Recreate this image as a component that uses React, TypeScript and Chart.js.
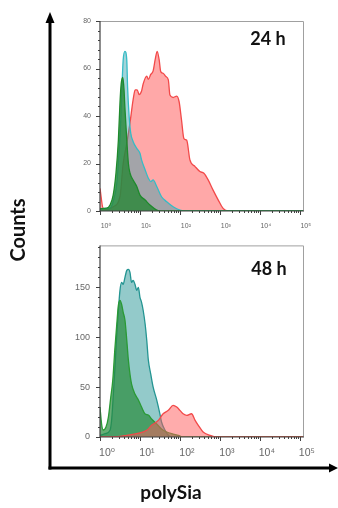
import React, { useEffect, useRef } from 'react';
import { Chart, registerables } from 'chart.js';

Chart.register(...registerables);

// ---- axis definitions (x in log10 decades) ----
const X_MAX = 5.08;
const decadeValues = [0, 1, 2, 3, 4, 5];
const decadeLabels = ['10\u2070', '10\u00b9', '10\u00b2', '10\u00b3', '10\u2074', '10\u2075'];
const yTicks24 = [0, 20, 40, 60, 80];
const yTicks48 = [0, 50, 100, 150];
const Y_MAX_24 = 80;
const Y_MAX_48 = 192;

// ---- 24 h histograms ----
const red24X = [0, 0.08, 0.2, 0.33, 0.5, 0.58, 0.67, 0.75, 0.83, 0.88, 0.93, 0.98, 1.04, 1.08, 1.17, 1.21, 1.27, 1.33, 1.38, 1.43, 1.48, 1.52, 1.58, 1.65, 1.71, 1.75, 1.83, 1.92, 1.98, 2.04, 2.1, 2.17, 2.25, 2.38, 2.5, 2.6, 2.71, 2.83, 2.96, 3.08, 3.21, 5.08];
const red24Y = [9.5, 1.1, 0.8, 1.8, 6, 20, 28.5, 37, 47, 51, 51, 49, 50.5, 53.5, 56.8, 55.4, 57.5, 59, 63.7, 67.2, 63.7, 58.7, 58, 56.6, 55.2, 48.8, 47.8, 48.4, 46, 38.3, 30.5, 29.8, 21.5, 18.7, 16.6, 15.9, 13, 8.8, 4.6, 1.1, 0, 0];
const cyan24X = [0, 0.25, 0.33, 0.42, 0.48, 0.52, 0.55, 0.58, 0.625, 0.67, 0.69, 0.73, 0.77, 0.83, 0.92, 1.0, 1.04, 1.13, 1.21, 1.27, 1.33, 1.42, 1.54, 1.67, 1.83, 2.0, 2.17, 5.08];
const cyan24Y = [1, 1.2, 4, 11.6, 25.7, 38.3, 52.3, 63.6, 67.2, 63.6, 52.3, 39.7, 32.7, 29.2, 26.4, 24.3, 21.5, 17.3, 13.8, 12.4, 13.1, 10.3, 6, 3.9, 1.8, 0.4, 0, 0];
const green24X = [0, 0.17, 0.25, 0.33, 0.4, 0.46, 0.5, 0.53, 0.57, 0.6, 0.625, 0.67, 0.71, 0.75, 0.83, 0.92, 1.0, 1.13, 1.25, 1.42, 1.54, 5.08];
const green24Y = [1, 1.2, 2.5, 6.7, 16, 29.9, 45.5, 53.5, 56.3, 51.4, 42.9, 30, 20, 16, 13, 10.3, 6.7, 4.6, 2.5, 0.4, 0, 0];

// ---- 48 h histograms ----
const teal48X = [0, 0.13, 0.25, 0.29, 0.33, 0.375, 0.42, 0.46, 0.5, 0.54, 0.58, 0.625, 0.67, 0.71, 0.75, 0.79, 0.83, 0.875, 0.92, 0.96, 1.0, 1.04, 1.08, 1.13, 1.17, 1.21, 1.27, 1.33, 1.42, 1.5, 1.54, 1.625, 1.71, 1.79, 5.08];
const teal48Y = [1.7, 3.3, 6.7, 16.7, 40, 70, 103, 127, 147, 155, 153, 160, 167, 168, 165, 155, 157, 153, 147, 150, 140, 135, 127, 113, 97, 77, 63, 50, 37, 23, 15, 7, 1.7, 0, 0];
const green48X = [0, 0.04, 0.08, 0.15, 0.21, 0.27, 0.32, 0.375, 0.42, 0.46, 0.5, 0.54, 0.58, 0.625, 0.67, 0.71, 0.75, 0.79, 0.875, 0.96, 1.04, 1.13, 1.21, 1.29, 1.42, 1.54, 1.67, 1.83, 1.96, 2.08, 5.08];
const green48Y = [30, 13, 7, 10, 20, 40, 57, 90, 113, 132, 137, 133, 125, 117, 97, 77, 63, 53, 43, 37, 30, 23, 22, 18, 13, 8, 5, 3, 1.7, 0, 0];
const red48X = [0, 0.5, 0.67, 0.92, 1.17, 1.29, 1.46, 1.58, 1.71, 1.83, 1.92, 2.0, 2.08, 2.17, 2.29, 2.38, 2.46, 2.58, 2.75, 2.92, 5.08];
const red48Y = [0, 0.7, 1.7, 3.3, 6.7, 11.7, 16.7, 23.3, 26.7, 31.7, 30, 26.7, 23.3, 21.7, 23.3, 16.7, 11.7, 5, 1.7, 0, 0];

const pts = (xs: number[], ys: number[]) => xs.map((x, i) => ({ x, y: ys[i] }));

const minorX: number[] = [];
for (let d = 0; d < 5; d++) for (let k = 2; k <= 9; k++) minorX.push(d + Math.log10(k));

const flowTicks = {
  id: 'flowTicks',
  afterDraw(chart: any, _args: any, opts: any) {
    const { ctx, chartArea: a, scales } = chart;
    const x = scales.x, y = scales.y;
    ctx.save();
    ctx.strokeStyle = '#a0a0a0';
    ctx.lineWidth = 1;
    ctx.beginPath();
    ctx.moveTo(a.left, a.top + 0.5);
    ctx.lineTo(a.right + 0.5, a.top + 0.5);
    ctx.lineTo(a.right + 0.5, a.bottom);
    ctx.stroke();
    ctx.strokeStyle = '#404040';
    ctx.lineWidth = 1.2;
    ctx.beginPath();
    ctx.moveTo(a.left, a.top);
    ctx.lineTo(a.left, a.bottom);
    ctx.lineTo(a.right + 1, a.bottom);
    ctx.stroke();
    ctx.lineWidth = 1;
    ctx.beginPath();
    decadeValues.forEach((v) => {
      const px = Math.round(x.getPixelForValue(v)) + 0.5;
      ctx.moveTo(px, a.bottom);
      ctx.lineTo(px, a.bottom + 4);
    });
    minorX.forEach((v) => {
      const px = Math.round(x.getPixelForValue(v)) + 0.5;
      ctx.moveTo(px, a.bottom);
      ctx.lineTo(px, a.bottom + 2);
    });
    for (let v = 0; v <= opts.yMax + 0.001; v += opts.yMinor) {
      const py = Math.round(y.getPixelForValue(v)) + 0.5;
      const major = opts.yMajors.includes(v);
      ctx.moveTo(a.left, py);
      ctx.lineTo(a.left - (major ? 4 : 2), py);
    }
    ctx.stroke();
    ctx.restore();
  },
};

type PanelProps = {
  height: number;
  padTop: number;
  xAxisHeight: number;
  yMax: number;
  yMajors: number[];
  yMinor: number;
  yFont: number;
  yPad: number;
  xFont: number;
  xPad: number;
  xLabelOffset: number;
  datasets: any[];
  style: React.CSSProperties;
};

function Panel(p: PanelProps) {
  const ref = useRef<HTMLCanvasElement | null>(null);
  useEffect(() => {
    if (!ref.current) return;
    const chart = new Chart(ref.current, {
      type: 'line',
      data: { datasets: p.datasets },
      plugins: [flowTicks],
      options: {
        animation: false,
        responsive: false,
        maintainAspectRatio: false,
        layout: { padding: { left: 0, top: p.padTop, right: 35, bottom: 0 } },
        plugins: {
          legend: { display: false },
          tooltip: { enabled: false },
          flowTicks: { yMax: p.yMax, yMajors: p.yMajors, yMinor: p.yMinor },
        } as any,
        elements: { point: { radius: 0 } },
        scales: {
          x: {
            type: 'linear',
            min: 0,
            max: X_MAX,
            grid: { display: false, drawTicks: false },
            border: { display: false },
            afterFit: (s: any) => { s.height = p.xAxisHeight; },
            afterBuildTicks: (s: any) => { s.ticks = decadeValues.map((v) => ({ value: v })); },
            ticks: {
              autoSkip: false,
              maxRotation: 0,
              padding: p.xPad,
              labelOffset: p.xLabelOffset,
              color: '#666',
              font: { family: '"Liberation Sans", "DejaVu Sans", sans-serif', size: p.xFont },
              callback: (v: any) => decadeLabels[decadeValues.indexOf(Number(v))] ?? '',
            },
          },
          y: {
            type: 'linear',
            min: 0,
            max: p.yMax,
            grid: { display: false, drawTicks: false },
            border: { display: false },
            afterFit: (s: any) => { s.width = 100; },
            afterBuildTicks: (s: any) => { s.ticks = p.yMajors.map((v) => ({ value: v })); },
            ticks: {
              autoSkip: false,
              padding: p.yPad,
              color: '#666',
              font: { family: '"Liberation Sans", sans-serif', size: p.yFont },
            },
          },
        },
      },
    });
    return () => chart.destroy();
  }, []);
  return <canvas ref={ref} width={338} height={p.height} style={{ position: 'absolute', left: 0, ...p.style }} />;
}

const line = (data: any, border: string, fill: string, order: number, w = 1.3) => ({
  data,
  borderColor: border,
  backgroundColor: fill,
  borderWidth: w,
  fill: 'origin',
  cubicInterpolationMode: 'monotone',
  pointRadius: 0,
  order,
});

const boldText: React.CSSProperties = {
  position: 'absolute',
  fontFamily: 'Lato, "Open Sans", sans-serif',
  fontWeight: 700,
  fontSize: 18,
  color: '#111',
  textAlign: 'center',
  whiteSpace: 'nowrap',
};

export default function App() {
  const ds24 = [
    line(pts(red24X, red24Y), '#f24a4a', 'rgba(255,110,110,0.6)', 3),
    line(pts(cyan24X, cyan24Y), '#35bcc6', 'rgba(50,160,170,0.45)', 2),
    line(pts(green24X, green24Y), '#1e8a2c', 'rgba(40,135,55,0.8)', 1),
  ];
  const ds48 = [
    line(pts(teal48X, teal48Y), '#249592', 'rgba(40,150,150,0.5)', 3),
    line(pts(green48X, green48Y), '#2a9a35', 'rgba(40,140,60,0.7)', 2),
    line(pts(red48X, red48Y), '#f24a4a', 'rgba(255,90,90,0.5)', 1),
  ];
  return (
    <div style={{ position: 'absolute', left: 0, top: 0, width: 338, height: 508, background: '#fff', overflow: 'hidden' }}>
      <Panel
        height={230}
        padTop={21}
        xAxisHeight={19}
        yMax={Y_MAX_24}
        yMajors={yTicks24}
        yMinor={4}
        yFont={7}
        yPad={9}
        xFont={7}
        xPad={11}
        xLabelOffset={6}
        datasets={ds24}
        style={{ top: 0 }}
      />
      <Panel
        height={240}
        padTop={15}
        xAxisHeight={33}
        yMax={Y_MAX_48}
        yMajors={yTicks48}
        yMinor={10}
        yFont={9}
        yPad={10}
        xFont={10.5}
        xPad={10}
        xLabelOffset={7}
        datasets={ds48}
        style={{ top: 230 }}
      />
      <svg width={338} height={508} style={{ position: 'absolute', left: 0, top: 0 }}>
        <line x1={50} y1={20} x2={50} y2={469.5} stroke="#000" strokeWidth={3} />
        <polygon points="50,12 45.5,23 54.5,23" fill="#000" />
        <line x1={48.5} y1={468} x2={331} y2={468} stroke="#000" strokeWidth={3} />
        <polygon points="338,468 329,463.5 329,472.5" fill="#000" />
      </svg>
      <div style={{ ...boldText, left: 228, top: 26, width: 80, lineHeight: '24px' }}>24 h</div>
      <div style={{ ...boldText, left: 229, top: 256, width: 80, lineHeight: '24px' }}>48 h</div>
      <div style={{ ...boldText, fontSize: 19, left: 121, top: 480, width: 100, lineHeight: '24px' }}>polySia</div>
      <div style={{ ...boldText, fontSize: 20, left: -33, top: 218, width: 100, height: 24, lineHeight: '24px', transform: 'rotate(-90deg)' }}>Counts</div>
    </div>
  );
}
